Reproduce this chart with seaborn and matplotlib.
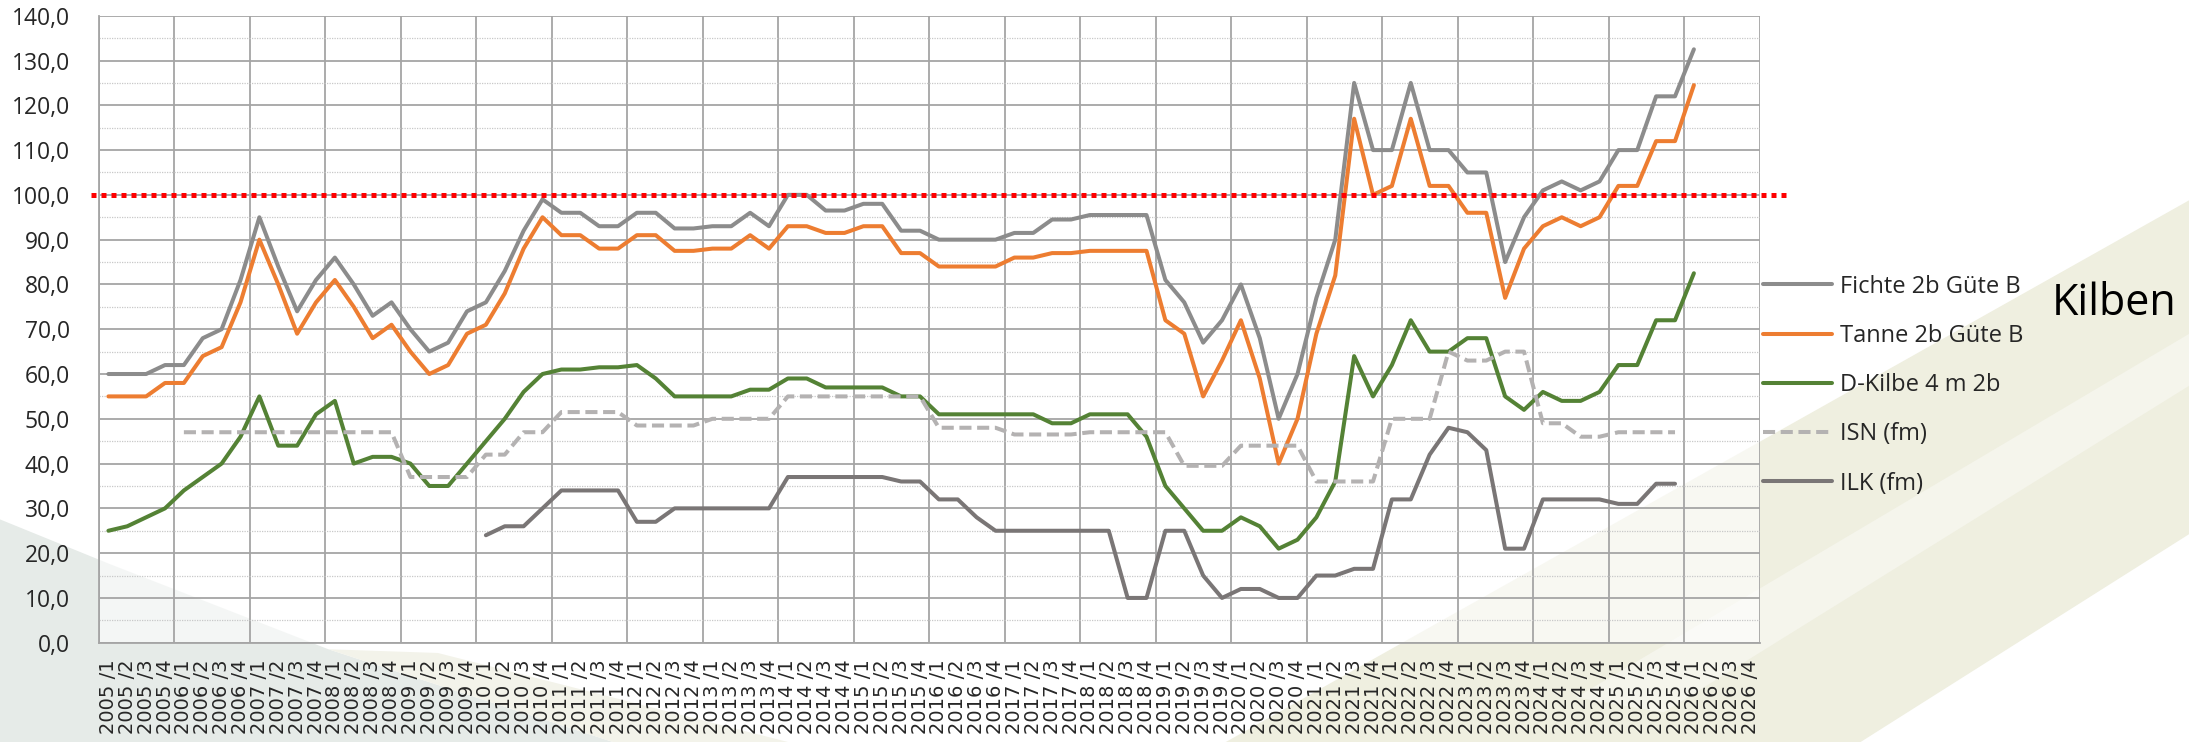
import numpy as np
import pandas as pd
import matplotlib
matplotlib.use("Agg")
import matplotlib.pyplot as plt
from matplotlib.patches import Polygon
from matplotlib.ticker import FixedLocator, FuncFormatter
import seaborn as sns

# Quartale 2005/1 .. 2026/4
jahre = list(range(2005, 2027))
quartale = [f"{j} /{q}" for j in jahre for q in (1, 2, 3, 4)]

fichte = [60, 60, 60, 62, 62, 68, 70, 81, 95, 84, 74, 81, 86, 80, 73, 76,
          70, 65, 67, 74, 76, 83, 92, 99, 96, 96, 93, 93, 96, 96, 92.5, 92.5,
          93, 93, 96, 93, 100, 100, 96.5, 96.5, 98, 98, 92, 92, 90, 90, 90, 90,
          91.5, 91.5, 94.5, 94.5, 95.5, 95.5, 95.5, 95.5, 81, 76, 67, 72,
          80, 68, 50, 60, 77, 90, 125, 110, 110, 125, 110, 110,
          105, 105, 85, 95, 101, 103, 101, 103, 110, 110, 122, 122, 132.5]

tanne = [55, 55, 55, 58, 58, 64, 66, 76, 90, 80, 69, 76, 81, 75, 68, 71,
         65, 60, 62, 69, 71, 78, 88, 95, 91, 91, 88, 88, 91, 91, 87.5, 87.5,
         88, 88, 91, 88, 93, 93, 91.5, 91.5, 93, 93, 87, 87, 84, 84, 84, 84,
         86, 86, 87, 87, 87.5, 87.5, 87.5, 87.5, 72, 69, 55, 63,
         72, 59, 40, 50, 69, 82, 117, 100, 102, 117, 102, 102,
         96, 96, 77, 88, 93, 95, 93, 95, 102, 102, 112, 112, 124.5]

kilbe = [25, 26, 28, 30, 34, 37, 40, 46, 55, 44, 44, 51, 54, 40, 41.5, 41.5,
         40, 35, 35, 40, 45, 50, 56, 60, 61, 61, 61.5, 61.5, 62, 59, 55, 55,
         55, 55, 56.5, 56.5, 59, 59, 57, 57, 57, 57, 55, 55, 51, 51, 51, 51,
         51, 51, 49, 49, 51, 51, 51, 46, 35, 30, 25, 25,
         28, 26, 21, 23, 28, 36, 64, 55, 62, 72, 65, 65,
         68, 68, 55, 52, 56, 54, 54, 56, 62, 62, 72, 72, 82.5]

# ISN ab 2006/1
isn = [47, 47, 47, 47, 47, 47, 47, 47, 47, 47, 47, 47,
       37, 37, 37, 37, 42, 42, 47, 47, 51.5, 51.5, 51.5, 51.5,
       48.5, 48.5, 48.5, 48.5, 50, 50, 50, 50, 55, 55, 55, 55, 55, 55, 55, 55,
       48, 48, 48, 48, 46.5, 46.5, 46.5, 46.5, 47, 47, 47, 47,
       47, 39.5, 39.5, 39.5, 44, 44, 44, 44, 36, 36, 36, 36,
       50, 50, 50, 65, 63, 63, 65, 65, 49, 49, 46, 46, 47, 47, 47, 47]

# ILK ab 2010/1
ilk = [24, 26, 26, 30, 34, 34, 34, 34, 27, 27, 30, 30, 30, 30, 30, 30,
       37, 37, 37, 37, 37, 37, 36, 36, 32, 32, 28, 25, 25, 25, 25, 25,
       25, 25, 10, 10, 25, 25, 15, 10, 12, 12, 10, 10, 15, 15, 16.5, 16.5,
       32, 32, 42, 48, 47, 43, 21, 21, 32, 32, 32, 32, 31, 31, 35.5, 35.5]

serien = [
    ("Fichte 2b Güte B", fichte, 0, "#8C8C8C", "-"),
    ("Tanne 2b Güte B", tanne, 0, "#ED7D31", "-"),
    ("D-Kilbe 4 m 2b", kilbe, 0, "#548235", "-"),
    ("ISN (fm)", isn, 4, "#B4B2B2", "--"),
    ("ILK (fm)", ilk, 20, "#7A7676", "-"),
]

sns.set_style("white")
plt.rcParams["font.family"] = ["Open Sans", "DejaVu Sans"]

fig = plt.figure(figsize=(21.89, 7.42), dpi=100)
fig.patch.set_facecolor("white")

# Hintergrund (Aquarell-Flächen)
fig.add_artist(Polygon([(0, 0), (0, 0.30), (0.05, 0.24), (0.15, 0.125), (0.28, 0.0)],
                       closed=True, transform=fig.transFigure,
                       facecolor="#E6EBE8", edgecolor="none", zorder=0))
fig.add_artist(Polygon([(0.15, 0.125), (0.28, 0.0), (0.36, 0.0), (0.20, 0.12)],
                       closed=True, transform=fig.transFigure,
                       facecolor="#F3F3EA", edgecolor="none", zorder=0))
fig.add_artist(Polygon([(0.56, 0), (1, 0.73), (1, 0.28), (0.85, 0)],
                       closed=True, transform=fig.transFigure,
                       facecolor="#EFEFE0", edgecolor="none", zorder=0))
fig.add_artist(Polygon([(0.72, 0.06), (1, 0.55), (1, 0.48), (0.76, 0.04)],
                       closed=True, transform=fig.transFigure,
                       facecolor="#F5F5EC", edgecolor="none", zorder=0))

ax = fig.add_axes([0.0452, 0.1338, 0.7588, 0.8450])
ax.set_facecolor((1, 1, 1, 0.6))

for name, werte, start, farbe, stil in serien:
    x = np.arange(start, start + len(werte))
    df = pd.DataFrame({"x": x, "y": werte})
    line_kw = dict(x="x", y="y", data=df, ax=ax, color=farbe, lw=2.9,
                   label=name, solid_joinstyle="round")
    if stil == "--":
        sns.lineplot(**line_kw, dashes=False, linestyle=(0, (3, 1.4)))
    else:
        sns.lineplot(**line_kw)

# Referenzlinie 100
ax.axhline(100, xmin=-0.005, xmax=1.016, color="#FF0000", lw=3.6,
           linestyle=(0, (1, 1)), clip_on=False, zorder=5)

ax.set_xlim(-0.5, len(quartale) - 0.5)
ax.set_ylim(0, 140)

ax.xaxis.set_major_locator(FixedLocator(np.arange(len(quartale))))
ax.set_xticklabels(quartale, rotation=90, family="DejaVu Sans", fontsize=14)
ax.xaxis.set_minor_locator(FixedLocator(np.arange(-0.5, len(quartale), 4)))
ax.tick_params(axis="x", which="major", length=0, pad=12)
ax.tick_params(axis="x", which="minor", length=6, width=1.3, color="#A5A5A5",
               direction="out")

ax.yaxis.set_major_locator(FixedLocator(np.arange(0, 141, 10)))
ax.yaxis.set_minor_locator(FixedLocator(np.arange(5, 140, 10)))
ax.yaxis.set_major_formatter(FuncFormatter(lambda v, p: f"{v:.1f}".replace(".", ",")))
ax.tick_params(axis="y", which="major", length=9, width=1.3, color="#A5A5A5",
               labelsize=16.5, pad=12, direction="out")
ax.tick_params(axis="y", which="minor", length=0)

ax.grid(which="major", axis="y", color="#A5A5A5", lw=1.3)
ax.grid(which="minor", axis="y", color="#C8C8C8", lw=0.9, linestyle=(0, (1, 1)))
ax.grid(which="minor", axis="x", color="#A5A5A5", lw=1.3)
ax.grid(which="major", axis="x", visible=False)
ax.set_axisbelow(True)

for s in ["top", "right"]:
    ax.spines[s].set_visible(False)
for s in ["left", "bottom"]:
    ax.spines[s].set_color("#A5A5A5")
    ax.spines[s].set_linewidth(1.3)

ax.set_xlabel("")
ax.set_ylabel("")

leg = ax.legend(loc="upper left", bbox_to_anchor=(0.8055, 0.630),
                bbox_transform=fig.transFigure, frameon=False, fontsize=17,
                handlelength=2.9, handletextpad=0.35, labelspacing=1.07,
                borderpad=0, borderaxespad=0)
for h in leg.get_lines():
    h.set_linewidth(2.9)

fig.text(0.966, 1 - 304 / 742, "Kilben", ha="center", va="center",
         fontsize=31, color="black")

plt.savefig("out.png", dpi=100)
